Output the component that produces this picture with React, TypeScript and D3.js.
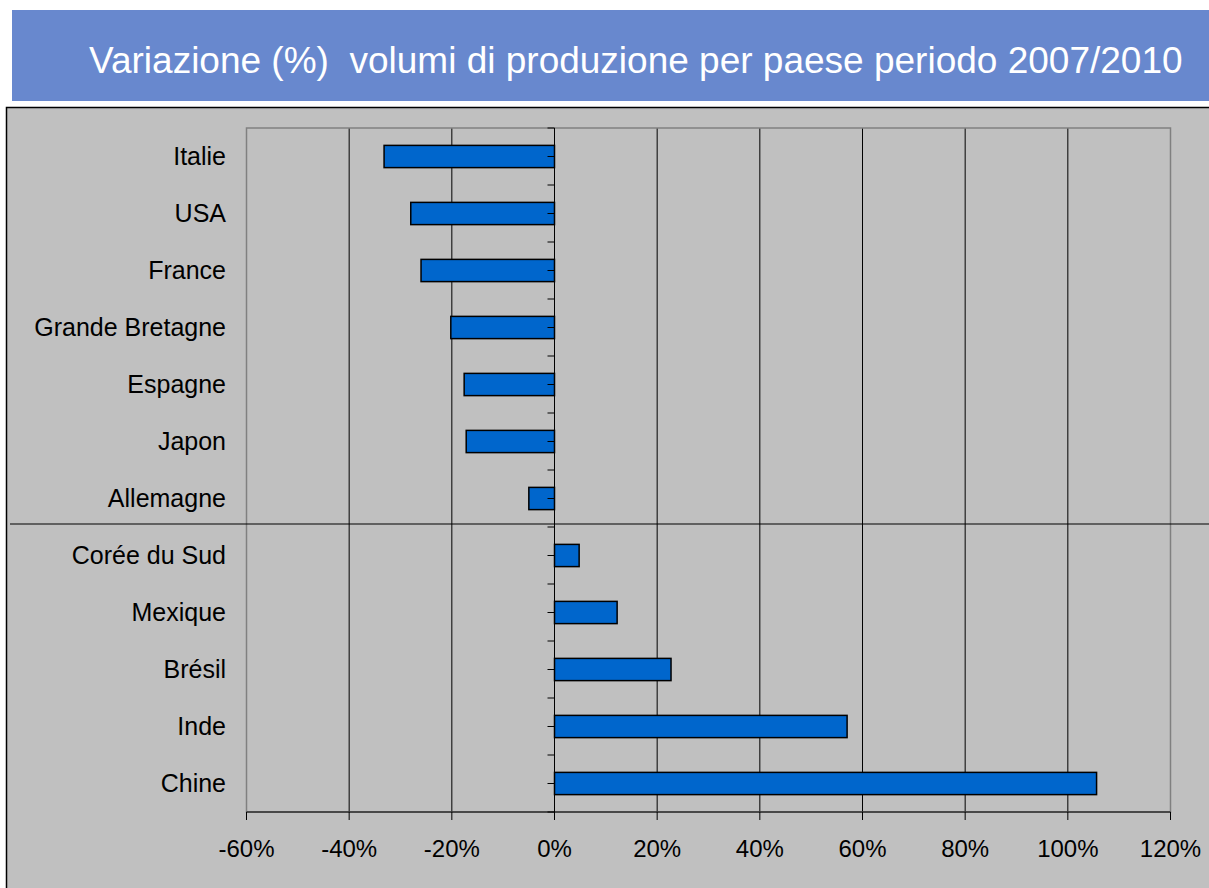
import React from 'react'
import * as d3 from 'd3'

const countries = [
  'Italie',
  'USA',
  'France',
  'Grande Bretagne',
  'Espagne',
  'Japon',
  'Allemagne',
  'Corée du Sud',
  'Mexique',
  'Brésil',
  'Inde',
  'Chine',
]
const variation = [-33.2, -28.0, -26.0, -20.2, -17.6, -17.2, -5.0, 4.8, 12.2, 22.7, 57.0, 105.6]
const xTicks = [-60, -40, -20, 0, 20, 40, 60, 80, 100, 120]

const width = 1209
const height = 888
const plot = { left: 246.5, right: 1170.5, top: 128, bottom: 812 }
const font = 'Arial, "Liberation Sans", sans-serif'

const xScale = d3.scaleLinear().domain([-60, 120]).range([plot.left, plot.right])
const yScale = d3
  .scaleBand()
  .domain(countries)
  .range([plot.top, plot.bottom])
  .paddingInner(0)
  .paddingOuter(0)

const band = yScale.bandwidth()
const barHeight = band * 0.39
// half-band tick positions on the zero axis
const yTickPos = d3.range(countries.length * 2 + 1).map(i => plot.top + (i * band) / 2)

export default function App() {
  const zero = xScale(0)
  const splitY = yScale('Corée du Sud')! - 3

  return (
    <svg
      width={width}
      height={height}
      style={{ position: 'absolute', left: 0, top: 0, background: '#fff' }}
    >
      {/* title banner */}
      <rect x={12} y={10} width={width - 12} height={91} fill="#6888ce" />
      <text x={89} y={73} fill="#fff" fontSize={37} fontFamily={font} style={{ whiteSpace: 'pre' }}>
        {'Variazione (%)  volumi di produzione per paese periodo 2007/2010'}
      </text>

      {/* chart area */}
      <rect x={6.5} y={107.5} width={width} height={height} fill="#c0c0c0" stroke="#000" strokeWidth={1.5} />

      {/* grid lines */}
      {xTicks.slice(1, -1).map(t => (
        <line key={t} x1={xScale(t)} x2={xScale(t)} y1={plot.top} y2={plot.bottom} stroke="#000" strokeWidth={1} />
      ))}
      <rect
        x={plot.left}
        y={plot.top}
        width={plot.right - plot.left}
        height={plot.bottom - plot.top}
        fill="none"
        stroke="#808080"
        strokeWidth={1.5}
      />

      {/* bars */}
      {countries.map((c, i) => {
        const v = variation[i]
        const x0 = xScale(Math.min(0, v))
        const x1 = xScale(Math.max(0, v))
        const cy = yScale(c)! + band / 2
        return (
          <rect
            key={c}
            x={x0}
            y={cy - barHeight / 2}
            width={x1 - x0}
            height={barHeight}
            fill="#0066cc"
            stroke="#000"
            strokeWidth={1.5}
          />
        )
      })}

      {/* zero axis with ticks */}
      <line x1={zero} x2={zero} y1={plot.top} y2={plot.bottom} stroke="#000" strokeWidth={1} />
      {yTickPos.map((y, i) => (
        <line key={i} x1={zero - 7} x2={zero} y1={y} y2={y} stroke="#000" strokeWidth={1} />
      ))}

      {/* x axis */}
      <line x1={plot.left} x2={plot.right} y1={plot.bottom} y2={plot.bottom} stroke="#000" strokeWidth={1} />
      {xTicks.map(t => (
        <g key={t}>
          <line x1={xScale(t)} x2={xScale(t)} y1={plot.bottom} y2={plot.bottom + 8} stroke="#000" strokeWidth={1} />
          <text x={xScale(t)} y={857} textAnchor="middle" fontSize={24} fontFamily={font} fill="#000">
            {t}%
          </text>
        </g>
      ))}

      {/* category labels */}
      {countries.map(c => (
        <text
          key={c}
          x={226}
          y={yScale(c)! + band / 2 + 8}
          textAnchor="end"
          fontSize={25}
          fontFamily={font}
          fill="#000"
        >
          {c}
        </text>
      ))}

      {/* separator between decline and growth */}
      <line x1={10} x2={width} y1={splitY} y2={splitY} stroke="#000" strokeWidth={1} />
    </svg>
  )
}
